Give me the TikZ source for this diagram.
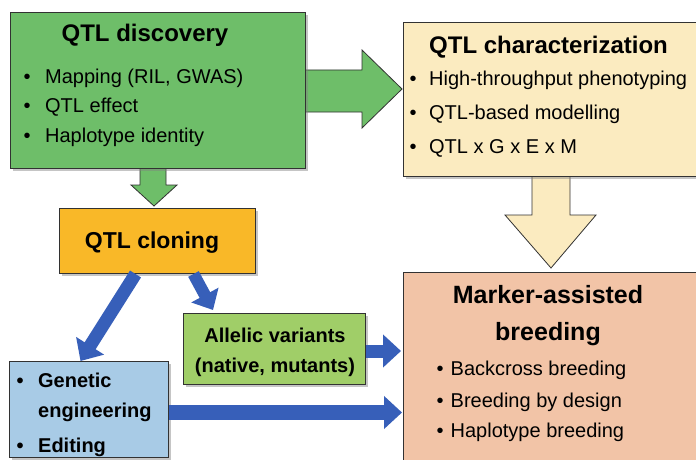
\documentclass[tikz,border=0pt]{standalone}
\usepackage{fontspec}
\setmainfont{Liberation Sans}
\usetikzlibrary{arrows.meta,shadows}
\definecolor{discG}{RGB}{110,190,105}
\definecolor{charY}{RGB}{251,235,192}
\definecolor{mabS}{RGB}{242,196,167}
\definecolor{clonO}{RGB}{249,184,40}
\definecolor{alleG}{RGB}{160,206,104}
\definecolor{genB}{RGB}{168,203,230}
\definecolor{arrB}{RGB}{55,95,185}
\definecolor{edge}{RGB}{50,50,50}
\begin{document}
\begin{tikzpicture}[x=1pt,y=-1pt,
  box/.style={draw=edge, line width=1pt, rectangle, anchor=north west, inner sep=0pt,
    drop shadow={shadow xshift=2pt, shadow yshift=-2.5pt, opacity=0.45}},
  blockarrow/.style={draw=edge, line width=0.8pt, line join=miter},
  ttl/.style={font=\fontsize{24}{28}\selectfont\bfseries, anchor=base, inner sep=0pt},
  item/.style={font=\fontsize{20}{24}\selectfont, anchor=base west, inner sep=0pt},
  bitem/.style={font=\fontsize{20}{24}\selectfont\bfseries, anchor=base west, inner sep=0pt},
  btxt/.style={font=\fontsize{20}{24}\selectfont\bfseries, anchor=base, inner sep=0pt},
  barrow/.style={draw=arrB, line width=13pt, -{Triangle[width=32pt,length=18pt]}}
]
\useasboundingbox (0,0) rectangle (696,460);
\fill[white] (0,0) rectangle (696,460);

% block arrows (drawn under the boxes)
\draw[blockarrow, fill=discG] (300,70) -- (362,70) -- (362,50) -- (402,89) -- (362,128) -- (362,112) -- (300,112) -- cycle;
\draw[blockarrow, fill=discG] (140,165) -- (166,165) -- (166,185) -- (177,185) -- (154,206) -- (131,185) -- (140,185) -- cycle;
\draw[blockarrow, fill=charY] (532,170) -- (570,170) -- (570,215) -- (596,215) -- (551,268) -- (505,215) -- (532,215) -- cycle;

% boxes
\node[box, fill=discG, minimum width=295pt, minimum height=156pt] (disc) at (10,12) {};
\node[box, fill=charY, minimum width=310pt, minimum height=154pt] (char) at (403,22) {};
\node[box, fill=mabS, minimum width=310pt, minimum height=200pt] (mab) at (403,272) {};
\node[box, fill=clonO, minimum width=196pt, minimum height=65pt] (clon) at (59,208) {};
\node[box, fill=alleG, minimum width=182pt, minimum height=71pt] (alle) at (183,313) {};
\node[box, fill=genB, minimum width=159pt, minimum height=96pt] (gen) at (9,361) {};

% QTL discovery
\node[ttl] (discT) at (145,42) {QTL discovery};
\node[item] (d1) at (23.5,83) {\makebox[21.5pt][l]{•}Mapping (RIL, GWAS)};
\node[item] (d2) at (23.5,112) {\makebox[21.5pt][l]{•}QTL effect};
\node[item] (d3) at (23.5,142) {\makebox[21.5pt][l]{•}Haplotype identity};

% QTL characterization
\node[ttl, anchor=base west] (charT) at (429,54) {QTL characterization};
\node[item] (c1) at (409.5,85) {\makebox[19.5pt][l]{•}High-throughput phenotyping};
\node[item] (c2) at (409.5,119) {\makebox[19.5pt][l]{•}QTL-based modelling};
\node[item] (c3) at (409.5,153) {\makebox[19.5pt][l]{•}QTL x G x E x M};

% QTL cloning
\node[ttl, font=\fontsize{23}{27}\selectfont\bfseries] (clonT) at (152,248) {QTL cloning};

% Allelic variants
\node[btxt] (a1) at (275,342) {Allelic variants};
\node[btxt] (a2) at (275,372) {(native, mutants)};

% Genetic engineering
\node[bitem] (g1) at (16.5,387) {\makebox[21.5pt][l]{•}Genetic};
\node[bitem] (g2) at (38,417) {engineering};
\node[bitem] (g3) at (16.5,452) {\makebox[21.5pt][l]{•}Editing};

% Marker-assisted breeding
\node[ttl, font=\fontsize{25}{29}\selectfont\bfseries] (mabT1) at (548,303) {Marker-assisted};
\node[ttl, font=\fontsize{25}{29}\selectfont\bfseries] (mabT2) at (548,340) {breeding};
\node[item] (m1) at (436.5,375) {\makebox[14pt][l]{•}Backcross breeding};
\node[item] (m2) at (436.5,407) {\makebox[14pt][l]{•}Breeding by design};
\node[item] (m3) at (436.5,437) {\makebox[14pt][l]{•}Haplotype breeding};

% blue connectors
\draw[barrow] ([xshift=-22pt]clon.south) -- ([xshift=-8.5pt]gen.north);
\draw[barrow, line width=12pt, -{Triangle[width=30pt,length=17pt]}] ([xshift=36pt]clon.south) -- ([xshift=30pt,yshift=3pt]alle.north west);
\draw[barrow, shorten >=2pt] ([yshift=-2pt]alle.east) -- ([yshift=-2pt]mab.west |- alle.east);
\draw[barrow, line width=15pt, shorten >=1pt] ([yshift=-3pt]gen.east) -- ([yshift=-3pt]mab.west |- gen.east);
\end{tikzpicture}
\end{document}
